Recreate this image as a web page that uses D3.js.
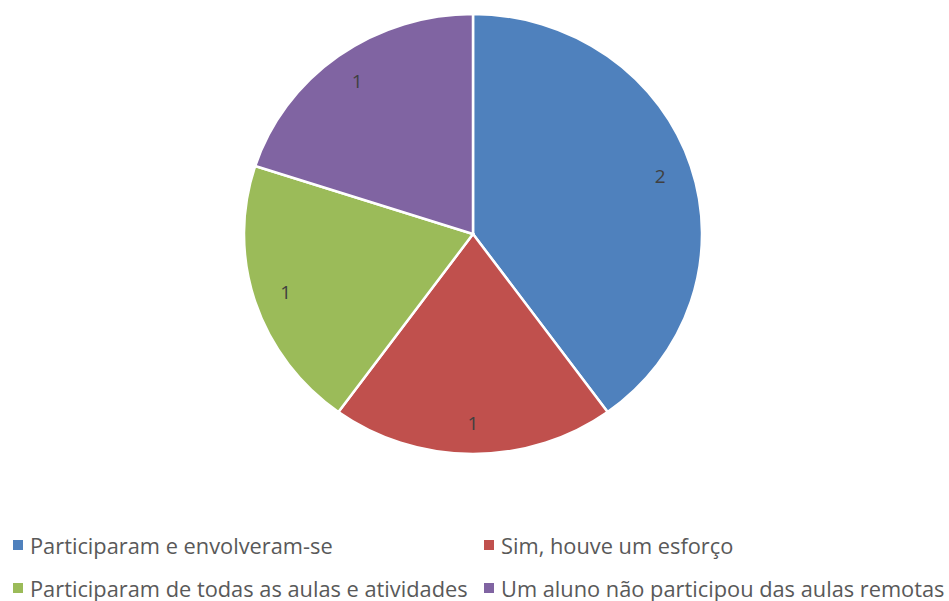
<!DOCTYPE html>
<html>
<head>
<meta charset="utf-8">
<script src="https://cdn.jsdelivr.net/npm/d3@7"></script>
<style>
  body { margin: 0; background: #fff; }
  svg { font-family: "Open Sans", "Noto Sans", sans-serif; }
</style>
</head>
<body>
<div id="container"></div>
<script>
let w = 949;
let h = 601;

// data
let categories = [
  "Participaram e envolveram-se",
  "Sim, houve um esforço",
  "Participaram de todas as aulas e atividades",
  "Um aluno não participou das aulas remotas"
];
let values = [2, 1, 1, 1];
let colors = ["#4F81BD", "#C0504D", "#9BBB59", "#8064A2"];

let data = categories.map(function(c, i){ return {name: c, value: values[i], color: colors[i]}; });

let viz = d3.select("#container")
  .append("svg")
    .attr("width", w)
    .attr("height", h)
;

// the pie in the picture is a bit wider than tall
let cx = 473, cy = 234;
let ry = 220, rx = 229;

let pie = d3.pie().value(d => d.value).sort(null);
let arc = d3.arc().innerRadius(0).outerRadius(ry);
let labelArc = d3.arc().innerRadius(ry * 0.86).outerRadius(ry * 0.86);

let pieGroup = viz.append("g")
  .attr("transform", "translate(" + cx + "," + cy + ") scale(" + (rx / ry) + ",1)");

let arcs = pie(data);

pieGroup.selectAll("path")
  .data(arcs)
  .enter()
  .append("path")
    .attr("d", arc)
    .attr("fill", d => d.data.color)
    .attr("stroke", "#fff")
    .attr("stroke-width", 2.5)
    .attr("vector-effect", "non-scaling-stroke")
;

let labelGroup = viz.append("g").attr("transform", "translate(" + cx + "," + cy + ")");
labelGroup.selectAll("text")
  .data(arcs)
  .enter()
  .append("text")
    .attr("x", d => labelArc.centroid(d)[0] * rx / ry)
    .attr("y", d => labelArc.centroid(d)[1])
    .attr("text-anchor", "middle")
    .attr("dominant-baseline", "central")
    .attr("font-size", 19)
    .attr("fill", "#404040")
    .text(d => d.data.value)
;

// legend, two columns
let legendX = [13, 484];
let legendY = [545, 588];
let legend = viz.append("g").classed("legend", true);
let items = legend.selectAll("g")
  .data(data)
  .enter()
  .append("g")
    .attr("transform", function(d, i){
      return "translate(" + legendX[i % 2] + "," + legendY[Math.floor(i / 2)] + ")";
    })
;
items.append("rect")
  .attr("x", 0)
  .attr("y", -5)
  .attr("width", 10)
  .attr("height", 10)
  .attr("fill", d => d.color);
items.append("text")
  .attr("x", 17)
  .attr("y", 0)
  .attr("dominant-baseline", "central")
  .attr("font-size", 21.8)
  .attr("fill", "#595959")
  .text(d => d.name);
</script>
</body>
</html>
